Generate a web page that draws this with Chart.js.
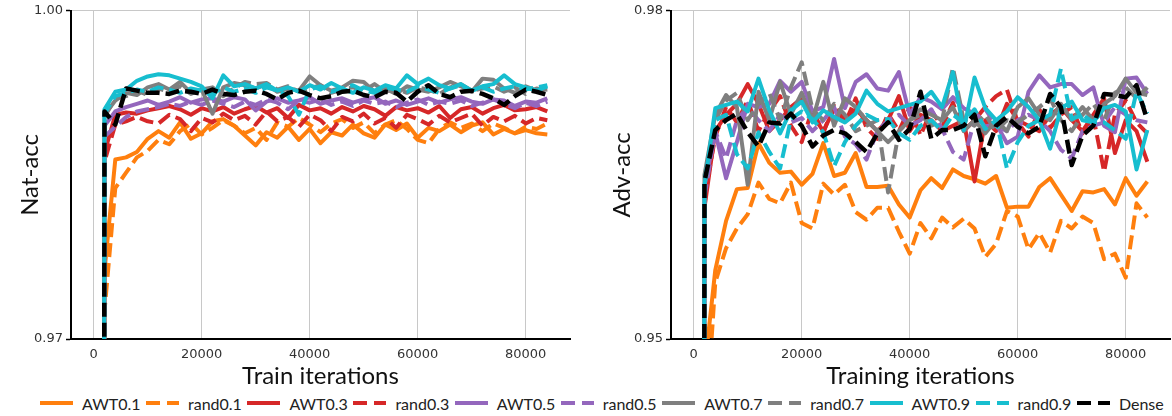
<!DOCTYPE html>
<html>
<head>
<meta charset="utf-8">
<script src="https://cdn.jsdelivr.net/npm/chart.js@4.4.1/dist/chart.umd.min.js"></script>
<style>
  body { margin: 0; background: #fff; width: 1172px; height: 416px; overflow: hidden; position: relative; font-family: Lato, sans-serif; }
  canvas { position: absolute; top: 0; }
  #natChart { left: 0; }
  #advChart { left: 586px; }
  #legend { position: absolute; left: 0; top: 392px; width: 1172px; height: 22px; display: flex; align-items: center;
            padding-left: 40px; box-sizing: border-box; font-size: 16px; color: #222; white-space: nowrap; }
  .item { display: flex; align-items: center; margin-right: 5.5px; }
  .item svg { margin-right: 9px; }
</style>
</head>
<body>
<canvas id="natChart" width="586" height="390"></canvas>
<canvas id="advChart" width="586" height="390"></canvas>
<div id="legend"></div>
<script>
const iterations = [0, 2000, 4000, 6000, 8000, 10000, 12000, 14000, 16000, 18000, 20000,
    22000, 24000, 26000, 28000, 30000, 32000, 34000, 36000, 38000, 40000,
    42000, 44000, 46000, 48000, 50000, 52000, 54000, 56000, 58000, 60000,
    62000, 64000, 66000, 68000, 70000, 72000, 74000, 76000, 78000, 80000,
    82000, 84000];
const xTicks = [0, 20000, 40000, 60000, 80000];
const natTicks = [0.97, 1.00];
const advTicks = [0.95, 0.98];

const seriesNames = ['AWT0.1', 'rand0.1', 'AWT0.3', 'rand0.3', 'AWT0.5', 'rand0.5', 'AWT0.7', 'rand0.7', 'AWT0.9', 'rand0.9', 'Dense'];
const seriesColors = ['#ff7f0e', '#ff7f0e', '#d62728', '#d62728', '#9467bd', '#9467bd', '#7f7f7f', '#7f7f7f', '#17becf', '#17becf', '#000000'];
const seriesDashed = [false, true, false, true, false, true, false, true, false, true, true];

// Nat-acc (left)
const natAWT01 = [0.1, 0.9762, 0.9864, 0.9866, 0.9871, 0.9883, 0.9890, 0.9884, 0.9898, 0.9883, 0.9888, 0.9899, 0.9901, 0.9895, 0.9886, 0.9877, 0.9889, 0.9884, 0.9894, 0.9882, 0.9892, 0.9879, 0.9889, 0.9886, 0.9896, 0.9888, 0.9884, 0.9896, 0.9891, 0.9897, 0.9884, 0.9893, 0.9890, 0.9896, 0.9889, 0.9895, 0.9898, 0.9887, 0.9892, 0.9888, 0.9891, 0.9888, 0.9887];
const natRand01 = [0.1, 0.9725, 0.9838, 0.9852, 0.9866, 0.9872, 0.9882, 0.9878, 0.9890, 0.9897, 0.9887, 0.9893, 0.9900, 0.9895, 0.9888, 0.9893, 0.9882, 0.9898, 0.9894, 0.9902, 0.9896, 0.9889, 0.9897, 0.9901, 0.9893, 0.9898, 0.9888, 0.9896, 0.9900, 0.9892, 0.9882, 0.9879, 0.9892, 0.9898, 0.9893, 0.9897, 0.9890, 0.9897, 0.9893, 0.9888, 0.9894, 0.9892, 0.9897];
const natAWT03 = [0.1, 0.9870, 0.9905, 0.9907, 0.9906, 0.9909, 0.9911, 0.9913, 0.9910, 0.9905, 0.9911, 0.9908, 0.9912, 0.9906, 0.9910, 0.9913, 0.9907, 0.9911, 0.9902, 0.9914, 0.9909, 0.9911, 0.9906, 0.9912, 0.9908, 0.9913, 0.9910, 0.9904, 0.9912, 0.9909, 0.9911, 0.9907, 0.9913, 0.9902, 0.9910, 0.9912, 0.9906, 0.9911, 0.9914, 0.9909, 0.9910, 0.9912, 0.9908];
const natRand03 = [0.1, 0.9862, 0.9896, 0.9899, 0.9903, 0.9899, 0.9897, 0.9905, 0.9901, 0.9890, 0.9902, 0.9898, 0.9906, 0.9900, 0.9904, 0.9896, 0.9908, 0.9899, 0.9903, 0.9894, 0.9905, 0.9900, 0.9890, 0.9903, 0.9899, 0.9906, 0.9897, 0.9902, 0.9893, 0.9905, 0.9901, 0.9896, 0.9904, 0.9898, 0.9902, 0.9906, 0.9895, 0.9903, 0.9899, 0.9904, 0.9897, 0.9902, 0.9900];
const natAWT05 = [0.1, 0.9895, 0.9908, 0.9912, 0.9915, 0.9918, 0.9914, 0.9917, 0.9921, 0.9916, 0.9919, 0.9920, 0.9917, 0.9921, 0.9919, 0.9909, 0.9917, 0.9920, 0.9916, 0.9918, 0.9921, 0.9915, 0.9918, 0.9920, 0.9916, 0.9919, 0.9921, 0.9915, 0.9918, 0.9914, 0.9917, 0.9920, 0.9916, 0.9919, 0.9921, 0.9917, 0.9915, 0.9919, 0.9918, 0.9913, 0.9917, 0.9916, 0.9920];
const natRand05 = [0.1, 0.9885, 0.9894, 0.9903, 0.9908, 0.9910, 0.9912, 0.9915, 0.9913, 0.9917, 0.9914, 0.9918, 0.9915, 0.9912, 0.9917, 0.9914, 0.9919, 0.9916, 0.9910, 0.9918, 0.9916, 0.9919, 0.9914, 0.9917, 0.9913, 0.9918, 0.9915, 0.9917, 0.9912, 0.9916, 0.9919, 0.9914, 0.9917, 0.9915, 0.9918, 0.9913, 0.9916, 0.9919, 0.9915, 0.9911, 0.9916, 0.9913, 0.9917];
const natAWT07 = [0.1, 0.9905, 0.9918, 0.9925, 0.9923, 0.9930, 0.9933, 0.9928, 0.9935, 0.9925, 0.9928, 0.9906, 0.9930, 0.9934, 0.9932, 0.9929, 0.9933, 0.9926, 0.9929, 0.9927, 0.9940, 0.9932, 0.9927, 0.9930, 0.9936, 0.9935, 0.9926, 0.9929, 0.9924, 0.9931, 0.9928, 0.9926, 0.9930, 0.9935, 0.9931, 0.9926, 0.9938, 0.9937, 0.9929, 0.9925, 0.9931, 0.9927, 0.9928];
const natRand07 = [0.1, 0.9903, 0.9920, 0.9922, 0.9927, 0.9923, 0.9929, 0.9926, 0.9931, 0.9924, 0.9928, 0.9930, 0.9922, 0.9929, 0.9935, 0.9933, 0.9934, 0.9928, 0.9931, 0.9926, 0.9929, 0.9932, 0.9925, 0.9928, 0.9930, 0.9927, 0.9933, 0.9926, 0.9929, 0.9925, 0.9930, 0.9928, 0.9924, 0.9930, 0.9933, 0.9927, 0.9929, 0.9931, 0.9926, 0.9930, 0.9924, 0.9929, 0.9927];
const natAWT09 = [0.1, 0.9910, 0.9926, 0.9928, 0.9936, 0.9940, 0.9942, 0.9941, 0.9938, 0.9935, 0.9931, 0.9920, 0.9941, 0.9931, 0.9933, 0.9929, 0.9933, 0.9927, 0.9930, 0.9926, 0.9932, 0.9928, 0.9934, 0.9929, 0.9925, 0.9930, 0.9927, 0.9932, 0.9929, 0.9941, 0.9933, 0.9938, 0.9932, 0.9929, 0.9933, 0.9927, 0.9931, 0.9933, 0.9941, 0.9933, 0.9930, 0.9927, 0.9931];
const natRand09 = [0.1, 0.9906, 0.9922, 0.9925, 0.9928, 0.9926, 0.9930, 0.9928, 0.9925, 0.9929, 0.9927, 0.9924, 0.9930, 0.9926, 0.9929, 0.9925, 0.9930, 0.9927, 0.9922, 0.9905, 0.9928, 0.9931, 0.9926, 0.9929, 0.9932, 0.9927, 0.9925, 0.9930, 0.9928, 0.9926, 0.9931, 0.9928, 0.9925, 0.9929, 0.9932, 0.9927, 0.9930, 0.9926, 0.9929, 0.9931, 0.9928, 0.9930, 0.9932];
const natDense = [0.1, 0.9908, 0.9896, 0.9929, 0.9927, 0.9925, 0.9925, 0.9924, 0.9927, 0.9926, 0.9924, 0.9928, 0.9924, 0.9923, 0.9926, 0.9927, 0.9924, 0.9919, 0.9925, 0.9927, 0.9923, 0.9920, 0.9922, 0.9926, 0.9927, 0.9923, 0.9921, 0.9926, 0.9925, 0.9917, 0.9926, 0.9932, 0.9924, 0.9921, 0.9926, 0.9927, 0.9924, 0.9920, 0.9914, 0.9922, 0.9928, 0.9926, 0.9923];

// Adv-acc (right)
const advAWT01 = [0.1, 0.9472, 0.9563, 0.9608, 0.9637, 0.9638, 0.9679, 0.9661, 0.9652, 0.9653, 0.9641, 0.9651, 0.9679, 0.9649, 0.9652, 0.9670, 0.9639, 0.9639, 0.9640, 0.9623, 0.9611, 0.9636, 0.9647, 0.9638, 0.9655, 0.9649, 0.9646, 0.9642, 0.9649, 0.9620, 0.9621, 0.9621, 0.9639, 0.9647, 0.9632, 0.9617, 0.9635, 0.9634, 0.9637, 0.9623, 0.9647, 0.9631, 0.9644];
const advRand01 = [0.1, 0.9400, 0.9552, 0.9583, 0.9601, 0.9614, 0.9643, 0.9628, 0.9624, 0.9643, 0.9606, 0.9601, 0.9642, 0.9632, 0.9641, 0.9616, 0.9609, 0.9620, 0.9620, 0.9598, 0.9578, 0.9606, 0.9592, 0.9611, 0.9602, 0.9610, 0.9601, 0.9575, 0.9587, 0.9617, 0.9612, 0.9582, 0.9597, 0.9579, 0.9608, 0.9601, 0.9612, 0.9606, 0.9573, 0.9578, 0.9556, 0.9624, 0.9611];
const advAWT03 = [0.1, 0.9620, 0.9690, 0.9705, 0.9715, 0.9733, 0.9715, 0.9690, 0.9700, 0.9712, 0.9720, 0.9705, 0.9690, 0.9710, 0.9700, 0.9710, 0.9700, 0.9690, 0.9700, 0.9722, 0.9690, 0.9705, 0.9700, 0.9690, 0.9695, 0.9700, 0.9644, 0.9700, 0.9690, 0.9715, 0.9700, 0.9695, 0.9690, 0.9705, 0.9712, 0.9700, 0.9690, 0.9705, 0.9720, 0.9670, 0.9700, 0.9690, 0.9662];
const advRand03 = [0.1, 0.9630, 0.9685, 0.9712, 0.9698, 0.9718, 0.9690, 0.9708, 0.9722, 0.9695, 0.9680, 0.9710, 0.9688, 0.9715, 0.9697, 0.9720, 0.9693, 0.9683, 0.9706, 0.9690, 0.9712, 0.9686, 0.9709, 0.9694, 0.9716, 0.9690, 0.9700, 0.9712, 0.9722, 0.9728, 0.9698, 0.9685, 0.9710, 0.9693, 0.9705, 0.9712, 0.9688, 0.9703, 0.9653, 0.9705, 0.9718, 0.9698, 0.9688];
const advAWT05 = [0.1, 0.9640, 0.9689, 0.9647, 0.9680, 0.9715, 0.9712, 0.9715, 0.9736, 0.9726, 0.9735, 0.9708, 0.9712, 0.9756, 0.9711, 0.9735, 0.9742, 0.9729, 0.9727, 0.9744, 0.9705, 0.9721, 0.9717, 0.9710, 0.9721, 0.9711, 0.9706, 0.9694, 0.9697, 0.9679, 0.9685, 0.9726, 0.9741, 0.9730, 0.9733, 0.9733, 0.9723, 0.9730, 0.9695, 0.9689, 0.9738, 0.9739, 0.9724];
const advRand05 = [0.1, 0.9630, 0.9690, 0.9665, 0.9700, 0.9712, 0.9700, 0.9690, 0.9705, 0.9698, 0.9702, 0.9690, 0.9700, 0.9712, 0.9685, 0.9678, 0.9664, 0.9690, 0.9700, 0.9705, 0.9695, 0.9700, 0.9710, 0.9692, 0.9671, 0.9664, 0.9700, 0.9710, 0.9695, 0.9690, 0.9700, 0.9705, 0.9700, 0.9690, 0.9673, 0.9665, 0.9690, 0.9695, 0.9698, 0.9712, 0.9705, 0.9700, 0.9698];
const advAWT07 = [0.1, 0.9650, 0.9705, 0.9723, 0.9712, 0.9641, 0.9726, 0.9700, 0.9735, 0.9705, 0.9725, 0.9700, 0.9735, 0.9695, 0.9720, 0.9712, 0.9700, 0.9690, 0.9680, 0.9690, 0.9700, 0.9710, 0.9705, 0.9700, 0.9712, 0.9690, 0.9700, 0.9688, 0.9700, 0.9690, 0.9712, 0.9720, 0.9705, 0.9700, 0.9715, 0.9700, 0.9712, 0.9700, 0.9715, 0.9722, 0.9738, 0.9725, 0.9723];
const advRand07 = [0.1, 0.9640, 0.9700, 0.9718, 0.9725, 0.9700, 0.9715, 0.9725, 0.9700, 0.9730, 0.9753, 0.9710, 0.9700, 0.9715, 0.9705, 0.9690, 0.9695, 0.9700, 0.9634, 0.9690, 0.9700, 0.9705, 0.9695, 0.9700, 0.9748, 0.9700, 0.9695, 0.9705, 0.9690, 0.9700, 0.9698, 0.9705, 0.9712, 0.9720, 0.9700, 0.9690, 0.9705, 0.9715, 0.9700, 0.9725, 0.9730, 0.9720, 0.9730];
const advAWT09 = [0.1, 0.9640, 0.9711, 0.9714, 0.9717, 0.9708, 0.9738, 0.9709, 0.9688, 0.9709, 0.9717, 0.9698, 0.9709, 0.9703, 0.9698, 0.9706, 0.9727, 0.9715, 0.9708, 0.9711, 0.9714, 0.9717, 0.9726, 0.9712, 0.9744, 0.9691, 0.9739, 0.9711, 0.9700, 0.9708, 0.9721, 0.9712, 0.9700, 0.9674, 0.9711, 0.9717, 0.9700, 0.9698, 0.9711, 0.9714, 0.9708, 0.9655, 0.9691];
const advRand09 = [0.1, 0.9645, 0.9700, 0.9705, 0.9669, 0.9656, 0.9689, 0.9671, 0.9656, 0.9701, 0.9708, 0.9701, 0.9689, 0.9658, 0.9680, 0.9695, 0.9705, 0.9700, 0.9701, 0.9688, 0.9682, 0.9695, 0.9700, 0.9690, 0.9705, 0.9698, 0.9710, 0.9692, 0.9700, 0.9656, 0.9680, 0.9695, 0.9700, 0.9705, 0.9747, 0.9701, 0.9705, 0.9698, 0.9698, 0.9691, 0.9683, 0.9726, 0.9706];
const advDense = [0.1, 0.9644, 0.9691, 0.9700, 0.9706, 0.9689, 0.9676, 0.9698, 0.9697, 0.9706, 0.9695, 0.9676, 0.9686, 0.9691, 0.9688, 0.9680, 0.9671, 0.9688, 0.9698, 0.9682, 0.9692, 0.9726, 0.9683, 0.9691, 0.9691, 0.9695, 0.9705, 0.9667, 0.9695, 0.9703, 0.9694, 0.9688, 0.9694, 0.9724, 0.9712, 0.9659, 0.9686, 0.9695, 0.9724, 0.9723, 0.9721, 0.9732, 0.9700];

const natValues = [natAWT01, natRand01, natAWT03, natRand03, natAWT05, natRand05, natAWT07, natRand07, natAWT09, natRand09, natDense];
const advValues = [advAWT01, advRand01, advAWT03, advRand03, advAWT05, advRand05, advAWT07, advRand07, advAWT09, advRand09, advDense];

const titleFont = { family: 'Lato', size: 24, lineHeight: 1 };
const tickFont = { family: 'DejaVu Sans', size: 13 };

function drawChart(canvasId, values, yTicks, yTitle, xTitle, pad, yWidth, yTitlePad) {
    const ctx = document.getElementById(canvasId).getContext('2d');
    new Chart(ctx, {
        type: 'line',
        data: {
            datasets: values.map((vals, i) => ({
                label: seriesNames[i],
                data: vals.map((v, j) => ({ x: iterations[j], y: v })),
                borderColor: seriesColors[i],
                borderWidth: i === 10 ? 4.5 : 4,
                borderDash: seriesDashed[i] ? [14, 6] : [],
                borderJoinStyle: 'round',
                pointRadius: 0,
                tension: 0,
                fill: false,
                order: 10 - i
            }))
        },
        options: {
            responsive: false,
            animation: false,
            layout: { padding: pad },
            plugins: { legend: { display: false }, tooltip: { enabled: false } },
            scales: {
                x: {
                    type: 'linear',
                    min: -4200,
                    max: 88200,
                    afterBuildTicks: s => { s.ticks = xTicks.map(v => ({ value: v })); },
                    afterFit: s => { s.height = 51; },
                    grid: { color: '#c8c8c8', lineWidth: 1, drawTicks: false },
                    border: { display: true, color: '#000', width: 2 },
                    ticks: { font: tickFont, color: '#333', padding: 8, maxRotation: 0, callback: v => String(v) },
                    title: { display: true, text: xTitle, font: titleFont, color: '#111', padding: { top: 0, bottom: 2 } }
                },
                y: {
                    min: yTicks[0],
                    max: yTicks[1],
                    afterBuildTicks: s => { s.ticks = yTicks.map(v => ({ value: v })); },
                    afterFit: s => { s.width = yWidth; },
                    grid: { color: '#c8c8c8', lineWidth: 1, tickLength: 5, tickColor: '#000', tickWidth: 1.5 },
                    border: { display: true, color: '#000', width: 2 },
                    ticks: { font: tickFont, color: '#333', padding: 3, callback: v => v.toFixed(2) },
                    title: { display: true, text: yTitle, font: titleFont, color: '#111', padding: { top: yTitlePad, bottom: 0 } }
                }
            }
        }
    });
}

drawChart('natChart', natValues, natTicks, 'Nat-acc', 'Train iterations', { top: 9, right: 16, bottom: 0, left: 0 }, 71, 18);
drawChart('advChart', advValues, advTicks, 'Adv-acc', 'Training iterations', { top: 8, right: 2, bottom: 0, left: 0 }, 85, 24);

const legend = document.getElementById('legend');
seriesNames.forEach((name, i) => {
    const item = document.createElement('div');
    item.className = 'item';
    const dash = seriesDashed[i] ? ' stroke-dasharray="14,7"' : '';
    item.innerHTML = '<svg width="33" height="8"><line x1="0" y1="4" x2="33" y2="4" stroke="' + seriesColors[i] +
        '" stroke-width="4"' + dash + '/></svg><span>' + name + '</span>';
    legend.appendChild(item);
});
</script>
</body>
</html>
